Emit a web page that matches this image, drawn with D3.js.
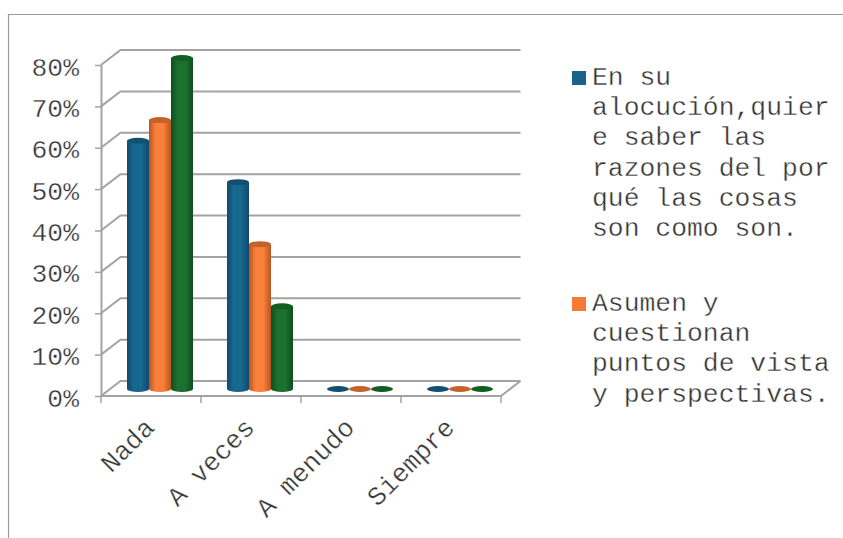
<!DOCTYPE html>
<html>
<head>
<meta charset="utf-8">
<script src="https://cdn.jsdelivr.net/npm/d3@7"></script>
<style>
  html, body { margin: 0; padding: 0; background: #fff; }
  svg { display: block; }
  /* thin white stroke: the reference face is much lighter than Liberation Mono */
  text { font-family: "Liberation Mono", monospace; fill: #333; stroke: #fff; stroke-width: 0.35px; }
</style>
</head>
<body>
<div id="chart"></div>
<script>
const categories = ["Nada", "A veces", "A menudo", "Siempre"];
const serieAzul = [60, 50, 0, 0];
const serieNaranja = [65, 35, 0, 0];
const serieVerde = [80, 20, 0, 0];
const yTicks = [0, 10, 20, 30, 40, 50, 60, 70, 80];
const legendAzul = ["En su", "alocución,quier", "e saber las", "razones del por", "qué las cosas", "son como son."];
const legendNaranja = ["Asumen y", "cuestionan", "puntos de vista", "y perspectivas."];

const series = [
  { values: serieAzul, dark: "#0f4a6e", mid: "#17688f", top: "#12506f" },
  { values: serieNaranja, dark: "#b9541f", mid: "#f9803a", top: "#c4622c" },
  { values: serieVerde, dark: "#0d4f1c", mid: "#1c7030", top: "#125f22" }
];

const width = 843, height = 538;
const gridColor = "#a3a3a3";
const depthX = 19.5, depthY = 15; // offset of the back wall
const fontSize = 26.4;

const svg = d3.select("#chart").append("svg")
  .attr("width", width)
  .attr("height", height);

const x = d3.scaleBand().domain(categories).range([101, 501]);
const y = d3.scaleLinear().domain([0, 80]).range([396, 65]);
const xSerie = d3.scaleBand().domain(d3.range(series.length)).range([0, 66]);

// Gradients for the cylinders
const defs = svg.append("defs");
series.forEach((s, i) => {
  const g = defs.append("linearGradient").attr("id", "cyl" + i);
  g.append("stop").attr("offset", "0%").attr("stop-color", s.dark);
  g.append("stop").attr("offset", "30%").attr("stop-color", s.mid);
  g.append("stop").attr("offset", "65%").attr("stop-color", s.mid);
  g.append("stop").attr("offset", "100%").attr("stop-color", s.dark);
});

// Outer frame, only top and left are visible
svg.append("path")
  .attr("d", "M8.5,538V14.5H843")
  .attr("fill", "none")
  .attr("stroke", "#9a9a9a")
  .attr("stroke-width", 1.2);

// Back wall gridlines with their diagonal part
const grid = d3.line();
svg.append("g").selectAll("path")
  .data(yTicks)
  .enter()
  .append("path")
  .attr("d", (t) => grid([
    [x.range()[0], y(t)],
    [x.range()[0] + depthX, y(t) - depthY],
    [x.range()[1] + depthX, y(t) - depthY]
  ]))
  .attr("fill", "none")
  .attr("stroke", gridColor)
  .attr("stroke-width", 2);

// Floor front edge and right side
svg.append("path")
  .attr("d", grid([
    [x.range()[0], y(0)],
    [x.range()[1], y(0)],
    [x.range()[1] + depthX, y(0) - depthY]
  ]))
  .attr("fill", "none")
  .attr("stroke", gridColor)
  .attr("stroke-width", 2);

// Y axis
const yAxis = svg.append("g")
  .attr("transform", `translate(${x.range()[0]},0)`)
  .call(d3.axisLeft(y).tickValues(yTicks).tickSize(6).tickSizeOuter(0).tickPadding(16).tickFormat((d) => d + "%"));
yAxis.select(".domain").attr("stroke", gridColor).attr("stroke-width", 2);
yAxis.selectAll("line").attr("stroke", gridColor).attr("stroke-width", 1.5);
yAxis.selectAll("text")
  .style("font-family", '"Liberation Mono", monospace')
  .style("font-size", fontSize + "px")
  .attr("dy", "0.38em")
  .attr("fill", "#333");

// X axis ticks and rotated labels
const xEdges = categories.map((c) => x(c)).concat(x.range()[1]);
svg.append("g").selectAll("line")
  .data(xEdges)
  .enter()
  .append("line")
  .attr("x1", (d) => d)
  .attr("x2", (d) => d)
  .attr("y1", y(0))
  .attr("y2", y(0) + 7)
  .attr("stroke", gridColor)
  .attr("stroke-width", 1.5);

svg.append("g").selectAll("text")
  .data(categories)
  .enter()
  .append("text")
  .attr("text-anchor", "end")
  .attr("font-size", fontSize)
  .attr("transform", (c) => `translate(${x(c) + x.bandwidth() / 2 + 5},${y(0) + 33}) rotate(-45)`)
  .text((c) => c);

// Cylinders
const barRx = xSerie.bandwidth() / 2, barRy = 3;
const barX = (c, i) => x(c) + 26 + xSerie(i);
const barBase = y(0) - depthY / 2 + 0.5;
const barTop = (v) => y(v) - depthY / 2 + 0.5;

series.forEach((s, i) => {
  const g = svg.append("g");
  const rows = categories.map((c, k) => ({ c: c, v: s.values[k] }));
  g.selectAll("path")
    .data(rows.filter((d) => d.v > 0))
    .enter()
    .append("path")
    .attr("d", (d) => {
      const x0 = barX(d.c, i);
      const x1 = x0 + barRx * 2;
      return `M${x0},${barTop(d.v)}L${x0},${barBase}A${barRx},${barRy} 0 0 0 ${x1},${barBase}L${x1},${barTop(d.v)}Z`;
    })
    .attr("fill", `url(#cyl${i})`);
  g.selectAll("ellipse")
    .data(rows)
    .enter()
    .append("ellipse")
    .attr("cx", (d) => barX(d.c, i) + barRx)
    .attr("cy", (d) => barTop(d.v))
    .attr("rx", barRx)
    .attr("ry", barRy)
    .attr("fill", s.top);
});

// Legend
const legendX = 592, lineH = 30.2;
const legendRows = [
  { color: "#17638a", lines: legendAzul, top: 85 },
  { color: "#f47a36", lines: legendNaranja, top: 311 }
];
legendRows.forEach((row) => {
  const g = svg.append("g");
  g.append("rect")
    .attr("x", 572)
    .attr("y", row.top - 14)
    .attr("width", 14)
    .attr("height", 14)
    .attr("fill", row.color);
  g.selectAll("text")
    .data(row.lines)
    .enter()
    .append("text")
    .attr("x", legendX)
    .attr("y", (d, i) => row.top + i * lineH)
    .attr("font-size", fontSize)
    .text((d) => d);
});
</script>
</body>
</html>
